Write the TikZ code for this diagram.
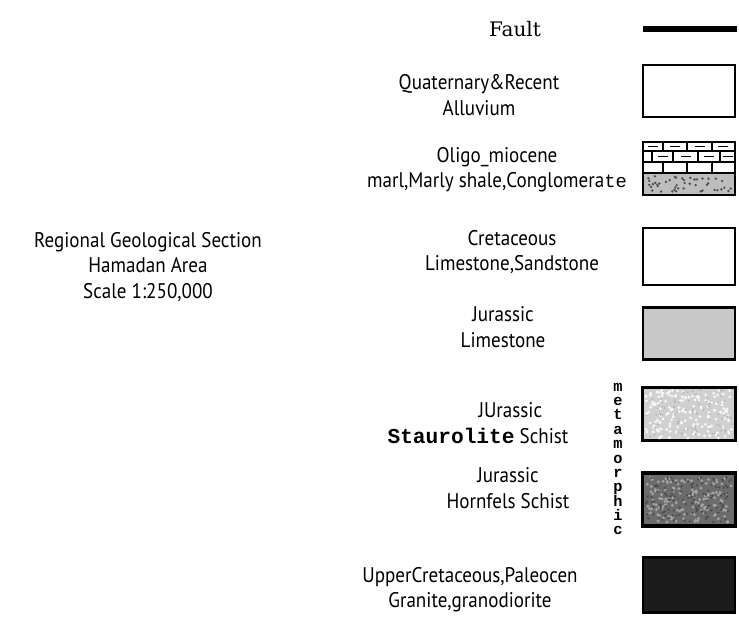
\documentclass[tikz,border=0pt]{standalone}
\usepackage{fontspec}
\setmainfont{PT Sans}[FakeStretch=0.9]
\newfontfamily\monofont{Liberation Mono}
\newfontfamily\faultfont{DejaVu Serif}
\usetikzlibrary{positioning}

\definecolor{limegray}{HTML}{C8C8C8}
\definecolor{staurgray}{HTML}{D0D0D0}
\definecolor{hornfgray}{HTML}{6C6C6C}
\definecolor{congray}{HTML}{BDBDBD}
\definecolor{granblack}{HTML}{1C1C1C}

\tikzset{
  legtext/.style={align=center, inner sep=0pt, font=\fontsize{18}{21.5}\selectfont},
  legbox/.style={draw, line width=2pt, minimum width=78pt, minimum height=44pt, inner sep=0pt},
  brick/.style={line width=1pt},
}

\begin{document}
\begin{tikzpicture}[x=0.85pt, y=-0.85pt]
  \useasboundingbox (0,0) rectangle (739,630);
  \pgfmathsetseed{7}

  % title on the left
  \node[legtext] (title) at (148,267) {Regional Geological Section\\Hamadan Area\\Scale 1:250,000};

  % fault
  \node[inner sep=0pt, font=\faultfont\fontsize{17}{18}\selectfont] (fault) at (515,29) {Fault};
  \coordinate (faultL) at (643,29);
  \coordinate (faultR) at (737,29);
  \draw[line width=4.5pt] (faultL) -- (faultR);

  % quaternary
  \node[legtext] (alluvtxt) at (479,95) {Quaternary\&Recent\\Alluvium};
  \node[legbox] (alluv) at (689,91) {};

  % oligo-miocene
  \node[legtext] (oligotxt) at (497,170) {Oligo\_miocene\\marl,Marly shale,Conglomera{\monofont\fontsize{16}{21.5}\selectfont te}};
  \node[legbox, minimum height=45pt] (oligo) at (689,168.5) {};
  \fill[congray] (644,173) rectangle (734,194);
  \foreach \k in {1,...,45}
    \fill[black!70] ({646+86*rnd},{176+16*rnd}) circle (1.1pt);
  \draw[brick] (643,151) -- (735,151);
  \draw[brick] (643,162) -- (735,162);
  \draw[line width=2pt] (643,173) -- (735,173);
  \foreach \xx in {663,687,712} {
    \draw[brick] (\xx,142) -- (\xx,151);
    \draw[brick] (\xx,162) -- (\xx,173);
  }
  \foreach \xx in {652,673,698,720}
    \draw[brick] (\xx,151) -- (\xx,162);
  \foreach \xx in {653,675,700,723}
    \draw[line width=1.2pt] (\xx-5,146.5) -- (\xx+5,146.5);
  \foreach \xx in {663,686,709,728}
    \draw[line width=1.2pt] (\xx-5,156.5) -- (\xx+5,156.5);
  \draw[line width=2pt] (643,142) rectangle (735,195);

  % cretaceous
  \node[legtext] (crettxt) at (512,252) {Cretaceous\\Limestone,Sandstone};
  \node[legbox, minimum height=48pt] (cret) at (689,256.5) {};

  % jurassic limestone
  \node[legtext] (jurtxt) at (503,327) {Jurassic\\Limestone};
  \node[legbox, fill=limegray] (jurlime) at (689,333.5) {};

  % metamorphic label
  \node[align=center, inner sep=0pt, font=\monofont\bfseries\fontsize{13}{12.2}\selectfont] (meta) at (618,459)
    {m\\e\\t\\a\\m\\o\\r\\p\\h\\i\\c};

  % staurolite schist
  \node[legtext] (staurtxt) at (478,423) {\hspace*{55pt}JUrassic\\{\monofont\bfseries\fontsize{18}{21.5}\selectfont Staurolite} Schist};
  \node[legbox, fill=staurgray] (staur) at (689,414) {};
  \foreach \k in {1,...,160}
    \fill[white!85!staurgray] ({646+86*rnd},{390+48*rnd}) circle (1.3pt);
  \foreach \k in {1,...,90}
    \fill[black!30] ({646+86*rnd},{390+48*rnd}) circle (0.8pt);
  \draw[line width=2pt] (staur.north west) rectangle (staur.south east);

  % hornfels schist
  \node[legtext] (hornftxt) at (508,488) {Jurassic\\Hornfels Schist};
  \node[legbox, fill=hornfgray] (hornf) at (689,499.5) {};
  \foreach \k in {1,...,140}
    \fill[black!35] ({646+86*rnd},{477+45*rnd}) circle (1.3pt);
  \foreach \k in {1,...,120}
    \fill[black!70] ({646+86*rnd},{477+45*rnd}) circle (1.1pt);
  \draw[line width=2pt] (hornf.north west) rectangle (hornf.south east);

  % granite
  \node[legtext] (grantxt) at (470,590) {UpperCretaceous,Paleocen\\Granite,granodiorite};
  \node[legbox, fill=granblack, minimum height=47pt] (granite) at (689,585) {};
\end{tikzpicture}
\end{document}
